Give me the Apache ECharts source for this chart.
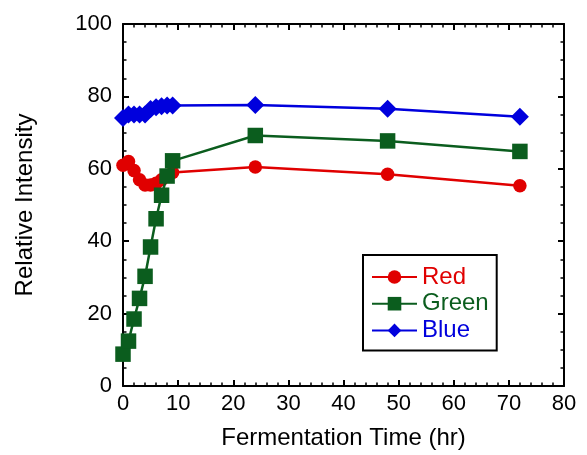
<!DOCTYPE html>
<html>
<head>
<meta charset="utf-8">
<script src="https://cdn.jsdelivr.net/npm/echarts@6/dist/echarts.min.js"></script>
<style>
  html, body { margin: 0; padding: 0; background: #fff; }
  #chart { width: 587px; height: 455px; }
</style>
</head>
<body>
<div id="chart"></div>
<script>
const hours = [0, 1, 2, 3, 4, 5, 6, 7, 8, 9, 24, 48, 72];
const redValues = [61, 62, 59.5, 57, 55.5, 55.5, 56, 57, 58, 59, 60.5, 58.5, 55.3];
const greenValues = [8.8, 12.4, 18.5, 24.2, 30.3, 38.4, 46.2, 52.7, 58, 62.2, 69.2, 67.7, 64.8];
const blueValues = [74, 75, 75, 75, 75, 76.5, 77, 77.3, 77.5, 77.5, 77.6, 76.6, 74.4];
const xTicks = [0, 10, 20, 30, 40, 50, 60, 70, 80];
const yTicks = [0, 20, 40, 60, 80, 100];

const RED = '#e00000';
const GREEN = '#0b5d1e';
const BLUE = '#0000dd';
const FONT = 'Liberation Sans';

const pairs = (vals) => hours.map((h, i) => [h, vals[i]]);

function boxAxis(extra) {
  return Object.assign({
    type: 'value',
    axisLine: { show: true, onZero: false, lineStyle: { color: '#000', width: 2 } },
    axisTick: { show: true, inside: true, length: 6, lineStyle: { color: '#000', width: 2 } },
    splitLine: { show: false },
  }, extra);
}

const minor = (n) => ({ show: true, splitNumber: n, length: 3.5, lineStyle: { color: '#000', width: 1.5 } });

const chart = echarts.init(document.getElementById('chart'), null, { renderer: 'canvas' });

const option = {
  animation: false,
  backgroundColor: '#fff',
  textStyle: { fontFamily: FONT },
  grid: { left: 123, right: 23, top: 24, bottom: 67 },
  legend: {
    orient: 'vertical',
    left: 363,
    top: 255,
    padding: [10, 8, 8, 8],
    itemGap: 2.7,
    itemWidth: 45,
    itemHeight: 17,
    borderColor: '#000',
    borderWidth: 2,
    backgroundColor: '#fff',
    textStyle: { fontFamily: FONT, fontSize: 24, lineHeight: 24 },
    data: [
      { name: 'Red', textStyle: { color: RED } },
      { name: 'Green', textStyle: { color: GREEN } },
      { name: 'Blue', textStyle: { color: BLUE } },
    ],
  },
  xAxis: [
    boxAxis({
      min: 0, max: 80, interval: 10,
      minorTick: minor(5),
      name: 'Fermentation Time (hr)',
      nameLocation: 'middle',
      nameGap: 40,
      nameTextStyle: { fontFamily: FONT, fontSize: 24, color: '#000' },
      axisLabel: {
        fontFamily: FONT, fontSize: 22, color: '#000', margin: 7,
        formatter: (v) => xTicks.includes(v) ? String(v) : '',
      },
    }),
    boxAxis({
      position: 'top',
      min: 0, max: 80, interval: 10,
      minorTick: minor(5),
      axisLabel: { show: false },
    }),
  ],
  yAxis: [
    boxAxis({
      min: 0, max: 100, interval: 20,
      minorTick: minor(4),
      name: 'Relative Intensity',
      nameLocation: 'middle',
      nameGap: 86,
      nameTextStyle: { fontFamily: FONT, fontSize: 24, color: '#000' },
      axisLabel: {
        fontFamily: FONT, fontSize: 22, color: '#000', margin: 11,
        formatter: (v) => yTicks.includes(v) ? String(v) : '',
      },
    }),
    boxAxis({
      position: 'right',
      min: 0, max: 100, interval: 20,
      minorTick: minor(4),
      axisLabel: { show: false },
    }),
  ],
  series: [
    {
      name: 'Red', type: 'line', data: pairs(redValues),
      symbol: 'circle', symbolSize: 13.5,
      lineStyle: { color: RED, width: 2.5 },
      itemStyle: { color: RED },
      z: 3,
    },
    {
      name: 'Green', type: 'line', data: pairs(greenValues),
      symbol: 'rect', symbolSize: 15.5,
      lineStyle: { color: GREEN, width: 2.5 },
      itemStyle: { color: GREEN },
      z: 4,
    },
    {
      name: 'Blue', type: 'line', data: pairs(blueValues),
      symbol: 'diamond', symbolSize: 18,
      lineStyle: { color: BLUE, width: 2.5 },
      itemStyle: { color: BLUE },
      z: 2,
    },
  ],
};

chart.setOption(option);
</script>
</body>
</html>
